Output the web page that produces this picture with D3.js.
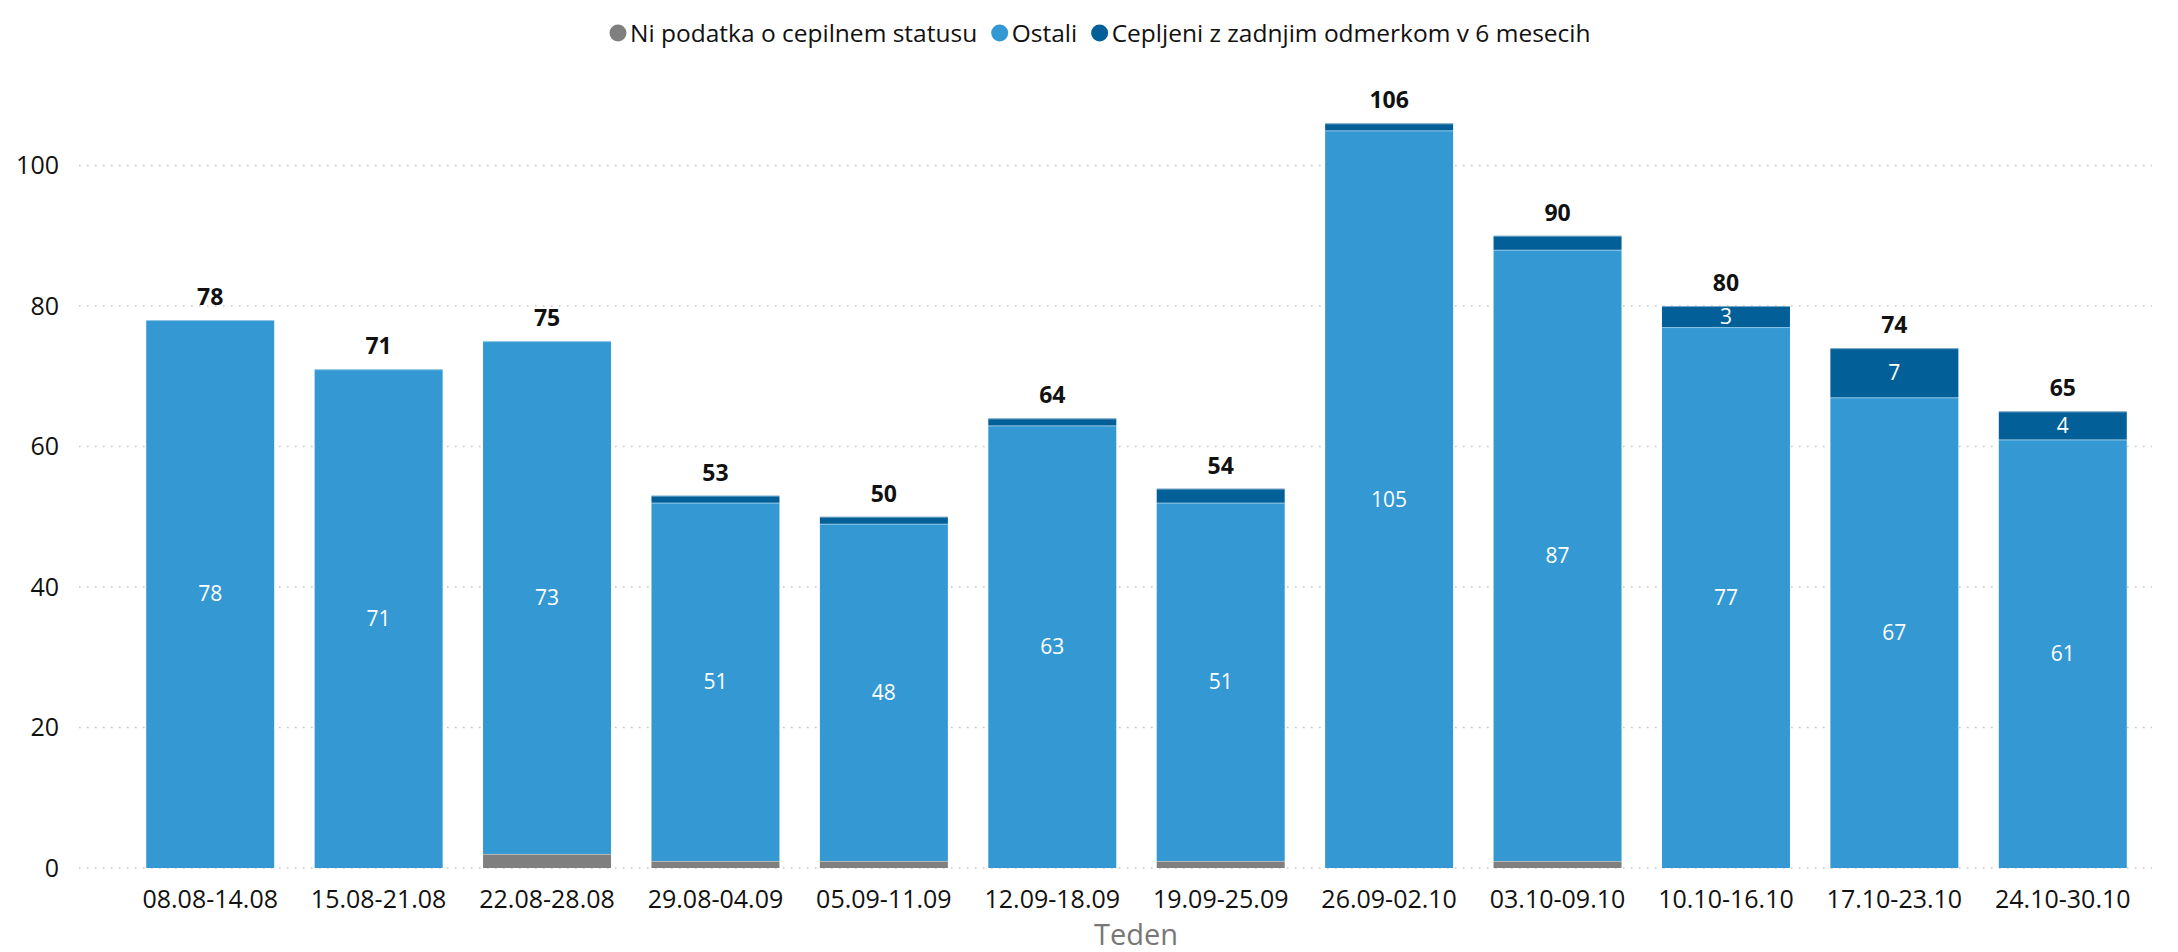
<!DOCTYPE html>
<html>
<head>
<meta charset="utf-8">
<script src="https://cdn.jsdelivr.net/npm/d3@7"></script>
<style>
  body { margin: 0; background: #fff; }
  svg { display: block; font-family: 'Open Sans', sans-serif; }
</style>
</head>
<body>
<div id="chart"></div>
<script>
// weeks
const weeks = ['08.08-14.08', '15.08-21.08', '22.08-28.08', '29.08-04.09', '05.09-11.09', '12.09-18.09',
  '19.09-25.09', '26.09-02.10', '03.10-09.10', '10.10-16.10', '17.10-23.10', '24.10-30.10'];

const noData = [0, 0, 2, 1, 1, 0, 1, 0, 1, 0, 0, 0];
const others = [78, 71, 73, 51, 48, 63, 51, 105, 87, 77, 67, 61];
const boosted = [0, 0, 0, 1, 1, 1, 2, 1, 2, 3, 7, 4];

const seriesNames = ['Ni podatka o cepilnem statusu', 'Ostali', 'Cepljeni z zadnjim odmerkom v 6 mesecih'];
const seriesColors = ['#7f7f7f', '#3498d3', '#025f97'];
const yTicks = [0, 20, 40, 60, 80, 100];

const width = 2178, height = 952;
const margin = { top: 60, right: 30, bottom: 84, left: 79 };

const svg = d3.select('#chart').append('svg')
  .attr('width', width)
  .attr('height', height);

const rows = weeks.map((w, i) => ({ week: w, nd: noData[i], ot: others[i], bo: boosted[i] }));
const stack = d3.stack().keys(['nd', 'ot', 'bo'])(rows);

const x = d3.scaleBand().domain(weeks)
  .range([126, 2147])
  .paddingInner(0.24)
  .paddingOuter(0.12);

const y = d3.scaleLinear().domain([0, 100]).range([868, 165.5]);

// grid
svg.append('g').selectAll('line')
  .data(yTicks)
  .join('line')
  .attr('x1', margin.left)
  .attr('x2', 2152)
  .attr('y1', d => y(d))
  .attr('y2', d => y(d))
  .attr('stroke', '#c6c6c6')
  .attr('stroke-width', 1.6)
  .attr('stroke-dasharray', '1.6,6.4');

// y axis
const yAxis = d3.axisLeft(y).tickValues(yTicks).tickSize(0).tickPadding(0);
svg.append('g')
  .attr('transform', 'translate(59,0)')
  .call(yAxis)
  .call(g => g.select('.domain').remove())
  .selectAll('text')
  .attr('font-family', 'Open Sans, sans-serif')
  .attr('font-size', 25)
  .attr('fill', '#111');

// x axis
const xAxis = d3.axisBottom(x).tickSize(0).tickPadding(0);
svg.append('g')
  .attr('transform', 'translate(0,890)')
  .call(xAxis)
  .call(g => g.select('.domain').remove())
  .selectAll('text')
  .attr('font-family', 'Open Sans, sans-serif')
  .attr('font-size', 25)
  .attr('fill', '#111');

svg.append('text')
  .attr('x', 1136)
  .attr('y', 945)
  .attr('text-anchor', 'middle')
  .attr('font-size', 29)
  .attr('fill', '#777')
  .text('Teden');

// bars
const layers = svg.append('g').selectAll('g')
  .data(stack)
  .join('g')
  .attr('fill', (d, i) => seriesColors[i]);

layers.selectAll('rect')
  .data(d => d.filter(s => s[1] - s[0] > 0))
  .join('rect')
  .attr('x', d => x(d.data.week))
  .attr('width', x.bandwidth())
  .attr('y', d => y(d[1]))
  .attr('height', d => y(d[0]) - y(d[1]));

layers.selectAll('line')
  .data(d => d.filter(s => s[1] - s[0] > 0))
  .join('line')
  .attr('x1', d => x(d.data.week))
  .attr('x2', d => x(d.data.week) + x.bandwidth())
  .attr('y1', d => y(d[1]) + 0.5)
  .attr('y2', d => y(d[1]) + 0.5)
  .attr('stroke', 'rgba(255,255,255,0.45)')
  .attr('stroke-width', 1);

// labels inside segments (only Ostali and larger boosted values)
stack.forEach((layer, i) => {
  if (i === 0) return;
  svg.append('g').selectAll('text')
    .data(layer.filter(s => (s[1] - s[0]) >= 3))
    .join('text')
    .attr('x', d => x(d.data.week) + x.bandwidth() / 2)
    .attr('y', d => y((d[0] + d[1]) / 2))
    .attr('dy', '0.35em')
    .attr('text-anchor', 'middle')
    .attr('font-size', 21)
    .attr('fill', '#fff')
    .text(d => d[1] - d[0]);
});

// totals
svg.append('g').selectAll('text')
  .data(rows)
  .join('text')
  .attr('x', d => x(d.week) + x.bandwidth() / 2)
  .attr('y', d => y(d.nd + d.ot + d.bo) - 15)
  .attr('text-anchor', 'middle')
  .attr('font-size', 23)
  .attr('font-weight', 'bold')
  .attr('fill', '#111')
  .text(d => d.nd + d.ot + d.bo);

// legend, laid out one after another and centred
const legend = svg.append('g').attr('transform', 'translate(0,33)');
const items = legend.selectAll('g')
  .data(seriesNames)
  .join('g');

items.append('circle')
  .attr('r', 8.5)
  .attr('fill', (d, i) => seriesColors[i]);

items.append('text')
  .attr('x', 12)
  .attr('dy', '0.35em')
  .attr('font-size', 24.5)
  .attr('fill', '#111')
  .text(d => d);

let cursor = 0;
items.each(function () {
  const w = d3.select(this).select('text').node().getComputedTextLength();
  d3.select(this).attr('transform', `translate(${cursor + 8.5},0)`);
  cursor += 8.5 + 12 + w + 14;
});
const total = cursor - 14;
legend.attr('transform', `translate(${1100 - total / 2},33)`);
</script>
</body>
</html>
